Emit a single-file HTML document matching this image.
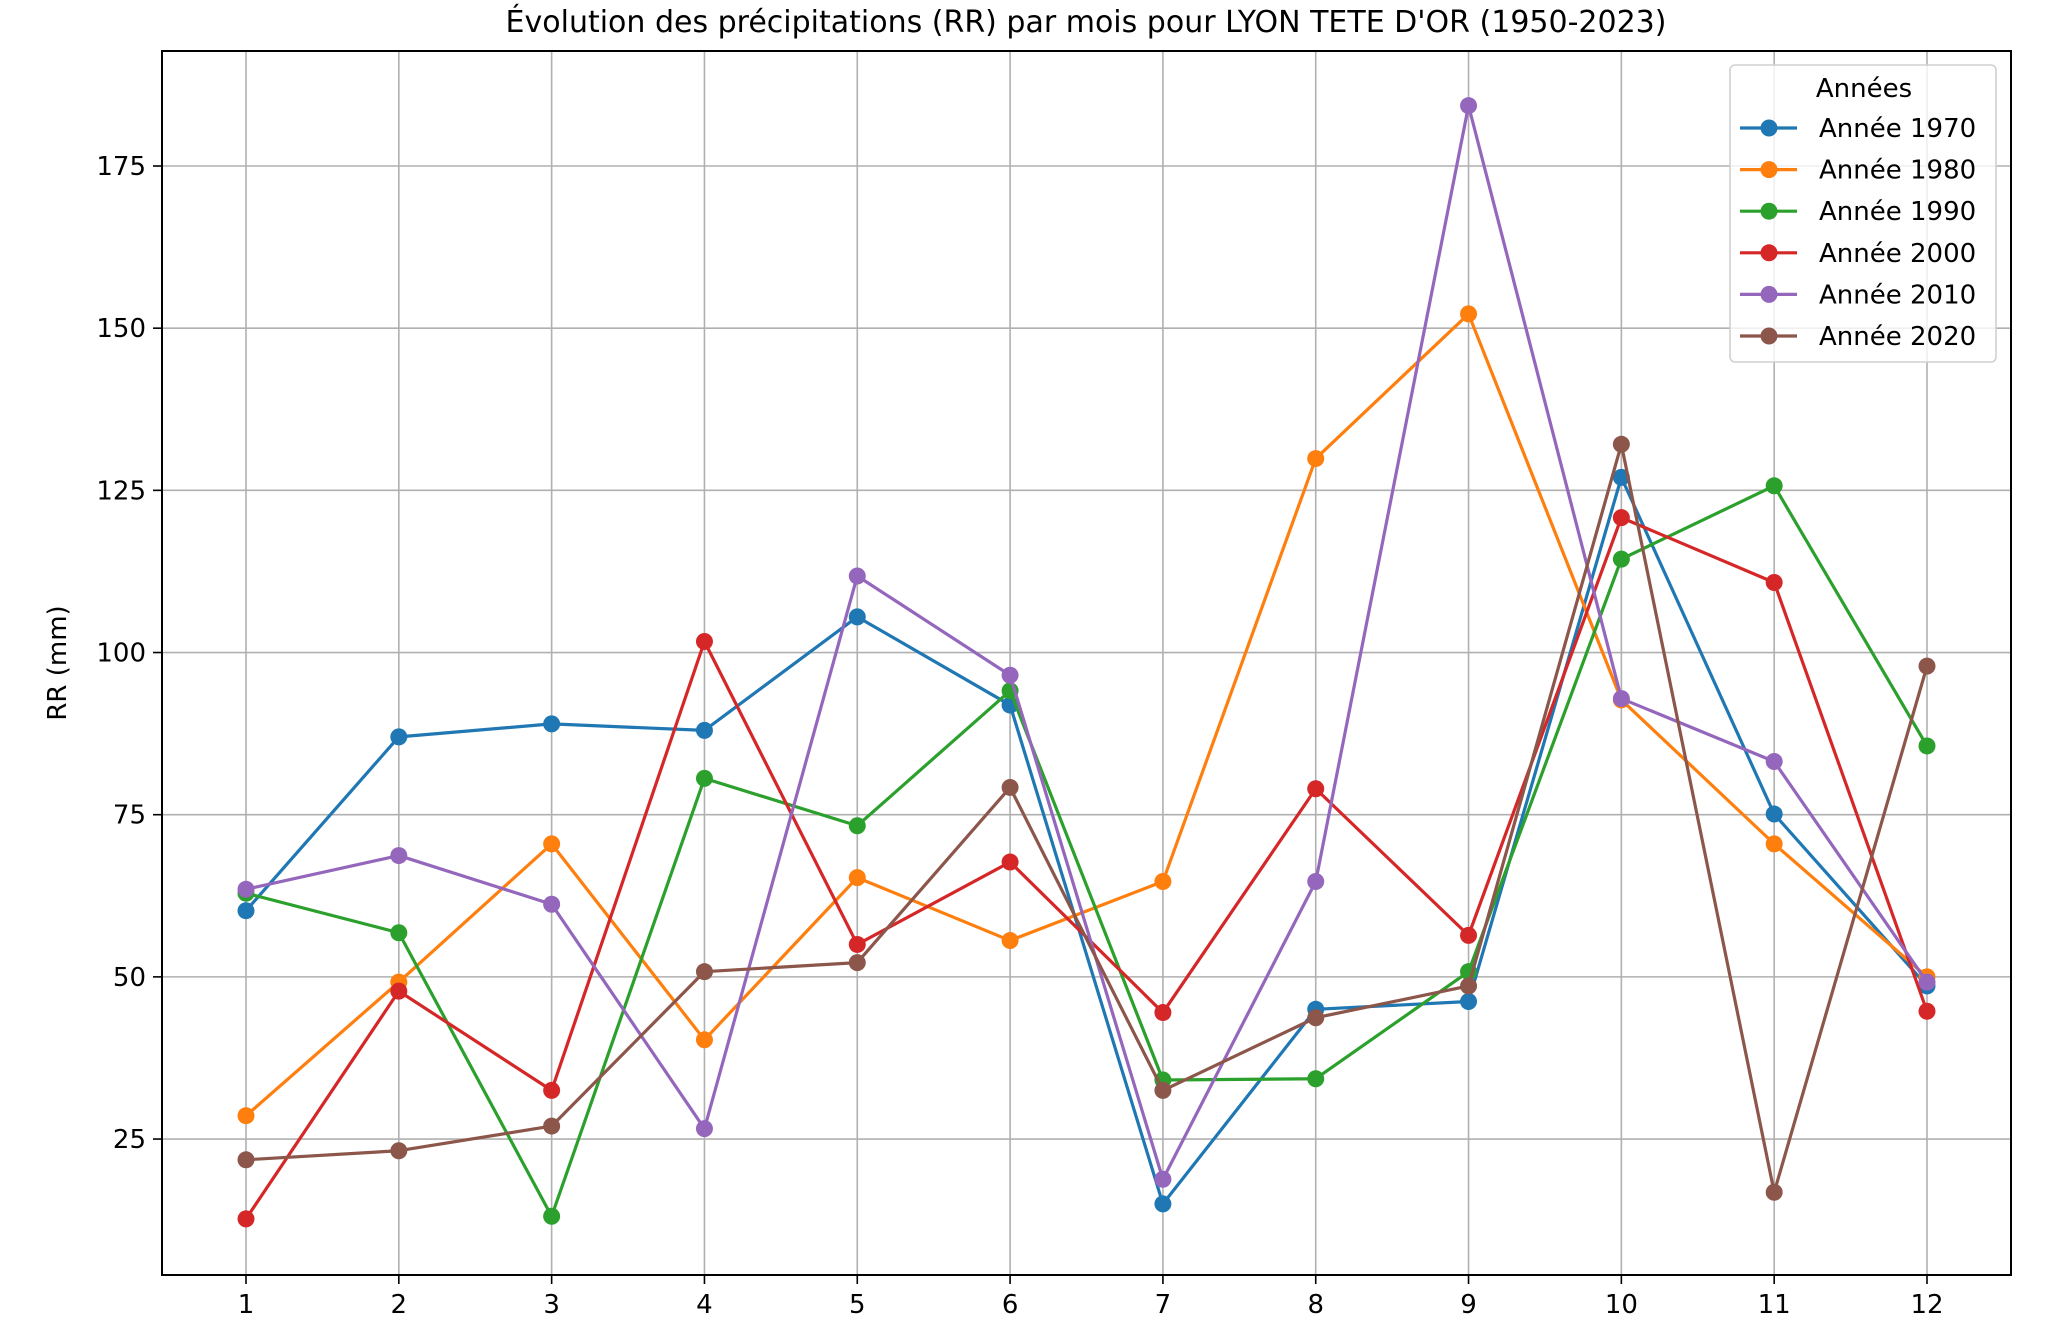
<!DOCTYPE html>
<html><head><meta charset="utf-8"><style>
html,body{margin:0;padding:0;background:#fff;}
svg{display:block;font-family:"DejaVu Sans","Liberation Sans",sans-serif;}
</style></head><body>
<svg id="chart" width="2048" height="1326" viewBox="0 0 2048 1326">
<text x="1086" y="32" text-anchor="middle" font-size="30" fill="#000">Évolution des précipitations (RR) par mois pour LYON TETE D'OR (1950-2023)</text>
<g id="grid"></g><g id="series"></g><g id="axes"></g><g id="legend"></g>
</svg>
<script>
const months=[1,2,3,4,5,6,7,8,9,10,11,12];
const yTicks=[25,50,75,100,125,150,175];
const seriesNames=["Année 1970","Année 1980","Année 1990","Année 2000","Année 2010","Année 2020"];
const colors=["#1f77b4","#ff7f0e","#2ca02c","#d62728","#9467bd","#8c564b"];
const s1970=[60.2,87.0,89.0,88.0,105.5,91.9,15.0,45.0,46.2,127.0,75.1,48.6];
const s1980=[28.6,49.2,70.5,40.3,65.3,55.6,64.7,129.9,152.2,92.7,70.5,50.0];
const s1990=[62.9,56.8,13.1,80.6,73.3,94.1,34.1,34.3,50.8,114.4,125.7,85.6];
const s2000=[12.7,47.8,32.5,101.7,55.0,67.7,44.5,79.0,56.4,120.8,110.8,44.7];
const s2010=[63.5,68.7,61.2,26.6,111.8,96.5,18.8,64.7,184.3,92.9,83.2,49.2];
const s2020=[21.8,23.2,27.0,50.8,52.2,79.2,32.5,43.7,48.6,132.1,16.8,97.9];
const allSeries=[s1970,s1980,s1990,s2000,s2010,s2020];

const L=162,R=2011,T=51,B=1275;
const xS=m=>246+(m-1)*(1927-246)/11;
const yS=v=>166+(175-v)*6.487;
const NS="http://www.w3.org/2000/svg";
function mk(tag,attrs,parent){const e=document.createElementNS(NS,tag);for(const k in attrs)e.setAttribute(k,attrs[k]);parent.appendChild(e);return e;}
const grid=document.getElementById('grid'),axes=document.getElementById('axes'),ser=document.getElementById('series'),leg=document.getElementById('legend');

months.forEach(m=>{
 const g=mk('line',{x1:xS(m),x2:xS(m),y1:T,y2:B,stroke:'#b0b0b0','stroke-width':1.6},grid);
 
 
 const t=mk('line',{x1:xS(m),x2:xS(m),y1:B,y2:B+9,stroke:'#000','stroke-width':1.6},axes);
 
 
 const l=mk('text',{x:xS(m),y:B+38,'text-anchor':'middle','font-size':26,fill:'#000'},axes);
 l.textContent=m;
 
 
});
yTicks.forEach(v=>{
 const g=mk('line',{x1:L,x2:R,y1:yS(v),y2:yS(v),stroke:'#b0b0b0','stroke-width':1.6},grid);
 
 
 const t=mk('line',{x1:L-9,x2:L,y1:yS(v),y2:yS(v),stroke:'#000','stroke-width':1.6},axes);
 
 
 const l=mk('text',{x:L-16,y:yS(v)+9,'text-anchor':'end','font-size':26,fill:'#000'},axes);
 l.textContent=v;
 
 
});
const frame=mk('rect',{x:L,y:T,width:R-L,height:B-T,fill:'none',stroke:'#000','stroke-width':2},axes);


const yl=mk('text',{x:0,y:0,transform:`translate(66,${(T+B)/2}) rotate(-90)`,'text-anchor':'middle','font-size':26,fill:'#000'},axes);
yl.textContent='RR (mm)';



allSeries.forEach((s,i)=>{
 const g=mk('g',{},ser);
 
 
 const p=mk('polyline',{points:s.map((v,j)=>xS(months[j])+','+yS(v)).join(' '),fill:'none',stroke:colors[i],'stroke-width':3.2,'stroke-linejoin':'round'},g);
 
 
 s.forEach((v,j)=>{
  const c=mk('circle',{cx:xS(months[j]),cy:yS(v),r:8.5,fill:colors[i]},g);
  
  
 });
});

const box=mk('rect',{x:1730,y:65,width:266,height:297,rx:5,fill:'#fff','fill-opacity':0.8,stroke:'#d0d0d0','stroke-width':1.6},leg);


const lt=mk('text',{x:1864,y:97,'text-anchor':'middle','font-size':26,fill:'#000'},leg);
lt.textContent='Années';


seriesNames.forEach((n,i)=>{
 const y=128+i*41.6;
 const g=mk('g',{},leg);
 
 
 mk('line',{x1:1740,x2:1797,y1:y,y2:y,stroke:colors[i],'stroke-width':3.2},g);
 mk('circle',{cx:1769,cy:y,r:8.5,fill:colors[i]},g);
 const t=mk('text',{x:1819,y:y+9,'font-size':26,fill:'#000'},g);
 t.textContent=n;
});
</script>
</body></html>
